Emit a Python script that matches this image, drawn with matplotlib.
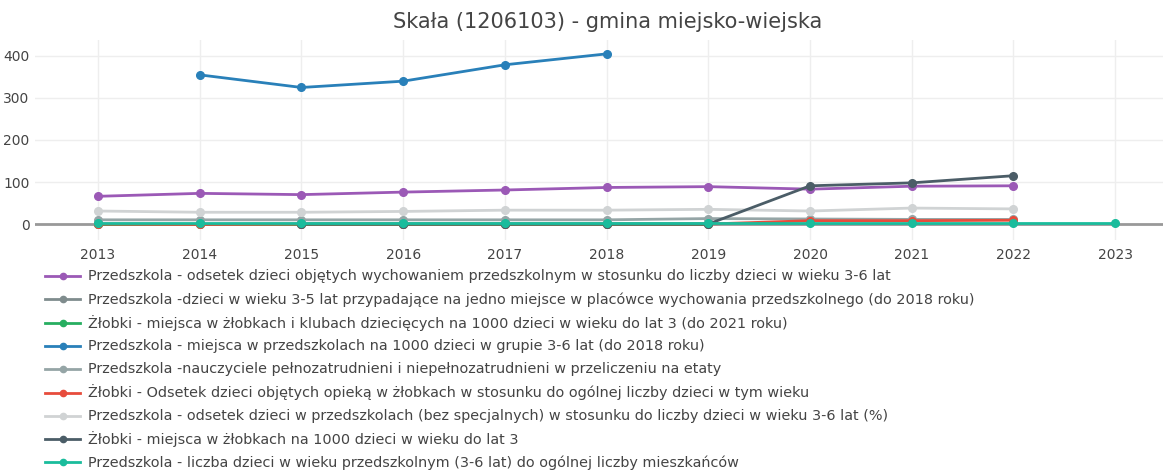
import matplotlib
matplotlib.use("Agg")
import matplotlib.pyplot as plt
from matplotlib.lines import Line2D
import numpy as np

title = "Skała (1206103) - gmina miejsko-wiejska"

years_all = list(range(2013, 2024))

names = [
    "Przedszkola - odsetek dzieci objętych wychowaniem przedszkolnym w stosunku do liczby dzieci w wieku 3-6 lat",
    "Przedszkola -dzieci w wieku 3-5 lat przypadające na jedno miejsce w placówce wychowania przedszkolnego (do 2018 roku)",
    "Żłobki - miejsca w żłobkach i klubach dziecięcych na 1000 dzieci w wieku do lat 3 (do 2021 roku)",
    "Przedszkola - miejsca w przedszkolach na 1000 dzieci w grupie 3-6 lat (do 2018 roku)",
    "Przedszkola -nauczyciele pełnozatrudnieni i niepełnozatrudnieni w przeliczeniu na etaty",
    "Żłobki - Odsetek dzieci objętych opieką w żłobkach w stosunku do ogólnej liczby dzieci w tym wieku",
    "Przedszkola - odsetek dzieci w przedszkolach (bez specjalnych) w stosunku do liczby dzieci w wieku 3-6 lat (%)",
    "Żłobki - miejsca w żłobkach na 1000 dzieci w wieku do lat 3",
    "Przedszkola - liczba dzieci w wieku przedszkolnym (3-6 lat) do ogólnej liczby mieszkańców",
]
colors = ["#9b59b6", "#7f8c8d", "#27ae60", "#2980b9", "#95a5a6",
          "#e74c3c", "#d0d3d4", "#4b5d67", "#1abc9c"]

x_odsetek = list(range(2013, 2023))
y_odsetek = [66, 73, 70, 76, 81, 87, 89, 83, 90, 91]

x_dzieci35 = list(range(2013, 2019))
y_dzieci35 = [1, 1, 1, 1, 1, 1]

x_zlobki_kluby = list(range(2013, 2020))
y_zlobki_kluby = [0, 0, 0, 0, 0, 0, 0]

x_miejsca = list(range(2014, 2019))
y_miejsca = [355, 325, 340, 379, 405]

x_nauczyciele = list(range(2013, 2023))
y_nauczyciele = [10, 10, 10, 10, 10, 10, 13, 12, 11, 11]

x_zlobki_odsetek = list(range(2013, 2023))
y_zlobki_odsetek = [0, -1, 0, 0, 0, 0, 0, 8, 8, 9]

x_odsetek_bez = list(range(2013, 2023))
y_odsetek_bez = [31, 28, 28, 30, 33, 33, 35, 31, 38, 36]

x_zlobki_miejsca = list(range(2015, 2023))
y_zlobki_miejsca = [0, 0, 0, 0, 0, 91, 98, 115]

x_liczba = list(range(2013, 2024))
y_liczba = [3, 3, 3, 3, 3, 3, 3, 3, 3, 3, 3]

series = [
    (x_odsetek, y_odsetek),
    (x_dzieci35, y_dzieci35),
    (x_zlobki_kluby, y_zlobki_kluby),
    (x_miejsca, y_miejsca),
    (x_nauczyciele, y_nauczyciele),
    (x_zlobki_odsetek, y_zlobki_odsetek),
    (x_odsetek_bez, y_odsetek_bez),
    (x_zlobki_miejsca, y_zlobki_miejsca),
    (x_liczba, y_liczba),
]

W, H = 1163, 470
fig = plt.figure(figsize=(W / 100, H / 100), dpi=100)
fig.patch.set_facecolor("white")

ax_left, ax_right, ax_top, ax_bot = 35, 1163, 40, 240
ax = fig.add_axes([ax_left / W, 1 - ax_bot / H, (ax_right - ax_left) / W, (ax_bot - ax_top) / H])

for (xs, ys), c in zip(series, colors):
    ax.plot(xs, ys, color=c, lw=2, marker="o", ms=5.5, zorder=3)

ax.set_xlim(2012.38, 2023.47)
ax.set_ylim(-38, 438)
ax.set_xticks(years_all)
ax.set_xticklabels([str(y) for y in years_all])
ax.set_yticks([0, 100, 200, 300, 400])
ax.grid(True, color="#eeeeee", lw=1, zorder=0)
ax.axhline(0, color="#999999", lw=2, zorder=2)
for s in ax.spines.values():
    s.set_visible(False)
ax.tick_params(axis="both", length=0, labelsize=10, colors="#444444", pad=6)
ax.tick_params(axis="y", pad=4)

fig.text(608 / W, 1 - 22 / H, title, ha="center", va="center", fontsize=15, color="#444444")

leg_y0 = 276
leg_dy = 23.3
for i, (name, c) in enumerate(zip(names, colors)):
    yy = 1 - (leg_y0 + i * leg_dy) / H
    fig.add_artist(Line2D([45 / W, 80 / W], [yy, yy], transform=fig.transFigure,
                          color=c, lw=2))
    fig.add_artist(Line2D([62.5 / W], [yy], transform=fig.transFigure,
                          color=c, marker="o", ms=4.5, lw=0))
    fig.text(88 / W, yy, name, ha="left", va="center", fontsize=10.4, color="#444444")

fig.savefig("out.png", dpi=100, facecolor="white")
